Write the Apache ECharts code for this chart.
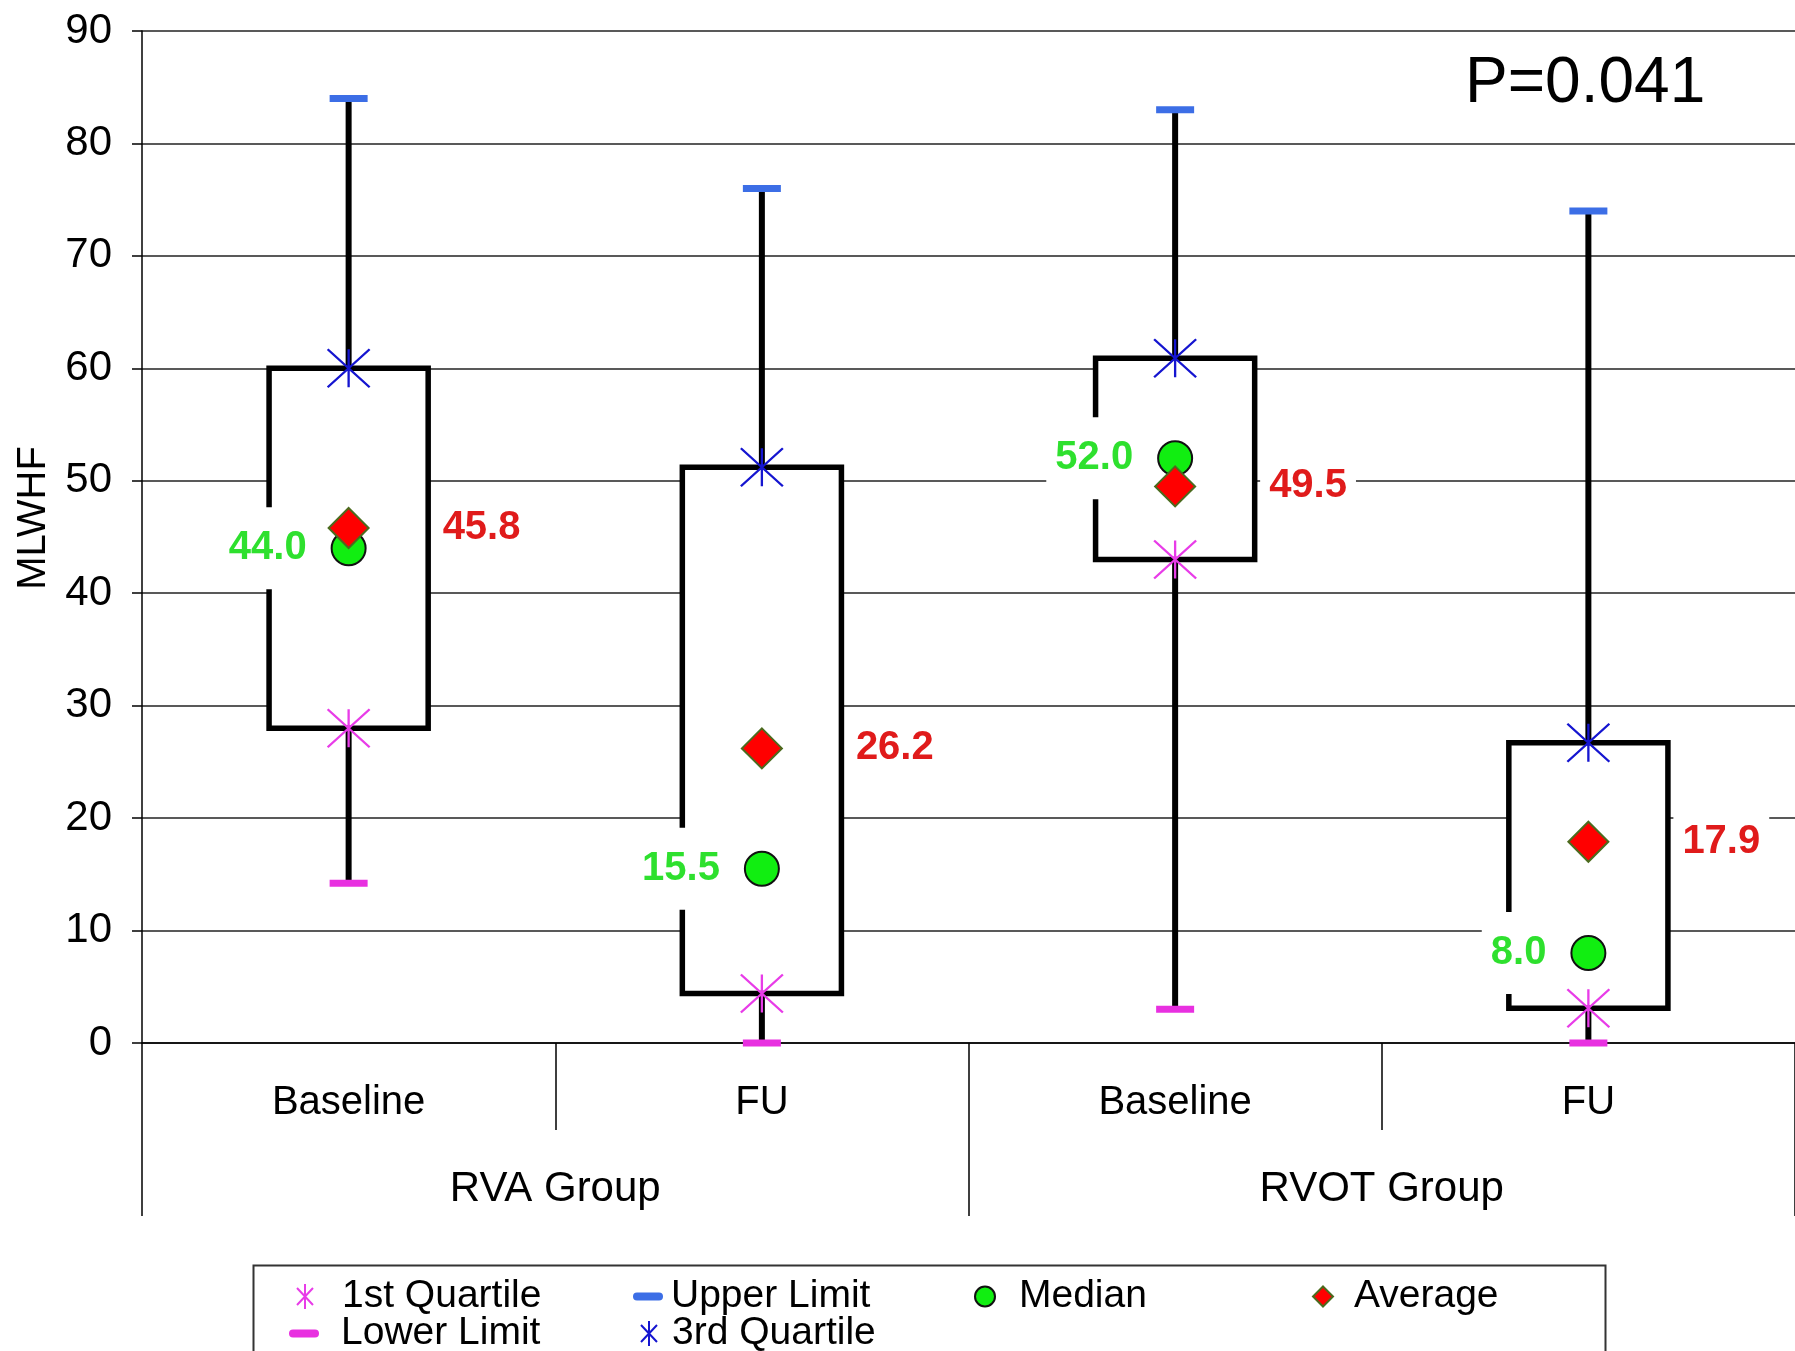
<!DOCTYPE html>
<html>
<head>
<meta charset="utf-8">
<script src="https://cdn.jsdelivr.net/npm/echarts@6/dist/echarts.min.js"></script>
<style>
html,body{margin:0;padding:0;background:#fff;}
#chart{width:1795px;height:1351px;}
</style>
</head>
<body>
<div id="chart"></div>
<script>
// ---- data ----
const categories = ['Baseline', 'FU', 'Baseline', 'FU'];
const groups = ['RVA Group', 'RVOT Group'];
const upperLimit = [84, 76, 83, 74];
const thirdQuartile = [60, 51.2, 60.9, 26.7];
const medianValues = [44.0, 15.5, 52.0, 8.0];
const averageValues = [45.8, 26.2, 49.5, 17.9];
const firstQuartile = [28, 4.4, 43, 3.1];
const lowerLimit = [14.2, 0, 3, 0];
const pValueText = 'P=0.041';

const FONT = 'Arial, "Liberation Sans", sans-serif';
const ASTERISK = 'path://M21,0L21,38M0,0L42,38M0,38L42,0';
const ASTERISK_LEGEND = 'path://M8,0L8,25M0,4L16,21M0,21L16,4';
const BAR = 'path://M0,0h24v7h-24z';
const BAR_LEGEND = 'path://M4,0h22a4,4 0 0 1 0,8h-22a4,4 0 0 1 0,-8z';
const DIAMOND = 'path://M10,0L20,10L10,20L0,10Z';

const boxData = categories.map((c, i) => [i, lowerLimit[i], upperLimit[i], firstQuartile[i], thirdQuartile[i]]);

// cx, cy: icon centre; w: legend item width; h: icon height; dw: drawn icon width
function legendItem(name, icon, cx, cy, w, h, dw) {
  return {
    data: [{ name: name, icon: icon }],
    left: cx - dw / 2 - 5, top: cy - 18,
    itemWidth: w, itemHeight: h,
    selectedMode: false,
    textStyle: { fontSize: 39, lineHeight: 36, color: '#000', fontFamily: FONT }
  };
}

const chart = echarts.init(document.getElementById('chart'), null, { renderer: 'canvas' });
const labelBase = {
  show: true, fontSize: 40, fontWeight: 'bold', fontFamily: FONT, lineHeight: 40,
  backgroundColor: '#fff', padding: [21, 9],
  formatter: p => Number(p.value).toFixed(1)
};

chart.setOption({
  animation: false,
  backgroundColor: '#fff',
  textStyle: { fontFamily: FONT },
  title: {
    text: pValueText, left: 1460, top: 47,
    textStyle: { fontSize: 64, fontWeight: 'normal', color: '#000', fontFamily: FONT }
  },
  grid: { left: 142, right: 0, top: 31, bottom: 308 },
  xAxis: [
    {
      type: 'category', data: categories, position: 'bottom',
      axisLine: { show: true, lineStyle: { color: '#000', width: 1.5 } },
      axisTick: { show: true, interval: 0, length: 87, lineStyle: { color: '#000', width: 1.5 } },
      axisLabel: { interval: 0, margin: 40, fontSize: 40, color: '#000', fontFamily: FONT },
      splitLine: { show: false }
    },
    {
      type: 'category', data: groups, position: 'bottom',
      axisLine: { show: false },
      axisTick: { show: true, interval: 0, length: 173, lineStyle: { color: '#000', width: 1.5 } },
      axisLabel: { interval: 0, margin: 125, fontSize: 42, color: '#000', fontFamily: FONT },
      splitLine: { show: false }
    }
  ],
  yAxis: {
    type: 'value', min: 0, max: 90, interval: 10,
    name: 'MLWHF', nameLocation: 'middle', nameGap: 88,
    nameTextStyle: { fontSize: 40, color: '#000', fontFamily: FONT, padding: [0, 0, 0, 38] },
    axisLine: { show: true, lineStyle: { color: '#000', width: 1.5 } },
    axisTick: { show: true, length: 10, lineStyle: { color: '#000', width: 1.5 } },
    axisLabel: { margin: 30, fontSize: 42, color: '#000', fontFamily: FONT },
    splitLine: { show: true, lineStyle: { color: '#222', width: 1.5 } }
  },
  legend: [
    legendItem('1st Quartile', ASTERISK_LEGEND, 304, 1290, 64, 25, 16),
    legendItem('Lower Limit', BAR_LEGEND, 304, 1327, 64, 8, 30),
    legendItem('Upper Limit', BAR_LEGEND, 648, 1290, 36, 8, 30),
    legendItem('3rd Quartile', ASTERISK_LEGEND, 648, 1327, 36, 25, 16),
    legendItem('Median', 'circle', 984, 1290, 58, 20, 20),
    legendItem('Average', DIAMOND, 1322, 1290, 52, 20, 20)
  ],
  graphic: [
    { type: 'rect', left: 251, top: 1263, shape: { width: 1352, height: 120 },
      style: { fill: 'none', stroke: '#333', lineWidth: 2 }, z: 0 }
  ],
  series: [
    {
      type: 'custom', name: 'box', z: 2,
      data: boxData,
      renderItem: function (params, api) {
        const i = api.value(0);
        const lo = api.coord([i, api.value(1)]);
        const hi = api.coord([i, api.value(2)]);
        const b1 = api.coord([i, api.value(3)]);
        const b3 = api.coord([i, api.value(4)]);
        const bw = api.size([1, 0])[0] * 0.385;
        return {
          type: 'group',
          children: [
            { type: 'line', shape: { x1: lo[0], y1: lo[1], x2: hi[0], y2: hi[1] },
              style: { stroke: '#000', lineWidth: 6 } },
            { type: 'rect', shape: { x: b1[0] - bw / 2, y: b3[1], width: bw, height: b1[1] - b3[1] },
              style: { fill: '#fff', stroke: '#000', lineWidth: 5.5 } }
          ]
        };
      }
    },
    {
      type: 'scatter', name: 'Upper Limit', z: 3, data: upperLimit,
      symbol: BAR, symbolSize: [38, 7], symbolKeepAspect: false,
      itemStyle: { color: '#3c6ee6', opacity: 1 }
    },
    {
      type: 'scatter', name: 'Lower Limit', z: 3, data: lowerLimit,
      symbol: BAR, symbolSize: [38, 7], symbolKeepAspect: false,
      itemStyle: { color: '#e830e0', opacity: 1 }
    },
    {
      type: 'scatter', name: '3rd Quartile', z: 3, data: thirdQuartile,
      symbol: ASTERISK, symbolSize: [42, 38],
      itemStyle: { color: '#1515d0', borderColor: '#1515d0', borderWidth: 2.2, opacity: 1 }
    },
    {
      type: 'scatter', name: '1st Quartile', z: 3, data: firstQuartile,
      symbol: ASTERISK, symbolSize: [42, 38],
      itemStyle: { color: '#e83ce8', borderColor: '#e83ce8', borderWidth: 2.2, opacity: 1 }
    },
    {
      type: 'scatter', name: 'Median', z: 4, data: medianValues,
      symbol: 'circle', symbolSize: 34,
      itemStyle: { color: '#11ee11', borderColor: '#111', borderWidth: 2, opacity: 1 },
      label: Object.assign({}, labelBase, { position: 'left', distance: 15, color: '#2ee02e' })
    },
    {
      type: 'scatter', name: 'Average', z: 4, data: averageValues,
      symbol: DIAMOND, symbolSize: 40,
      itemStyle: { color: '#ff0000', borderColor: '#4b6b1e', borderWidth: 2, opacity: 1 },
      label: Object.assign({}, labelBase, { position: 'right', distance: 64, color: '#e01b1b' })
    }
  ]
});
</script>
</body>
</html>
